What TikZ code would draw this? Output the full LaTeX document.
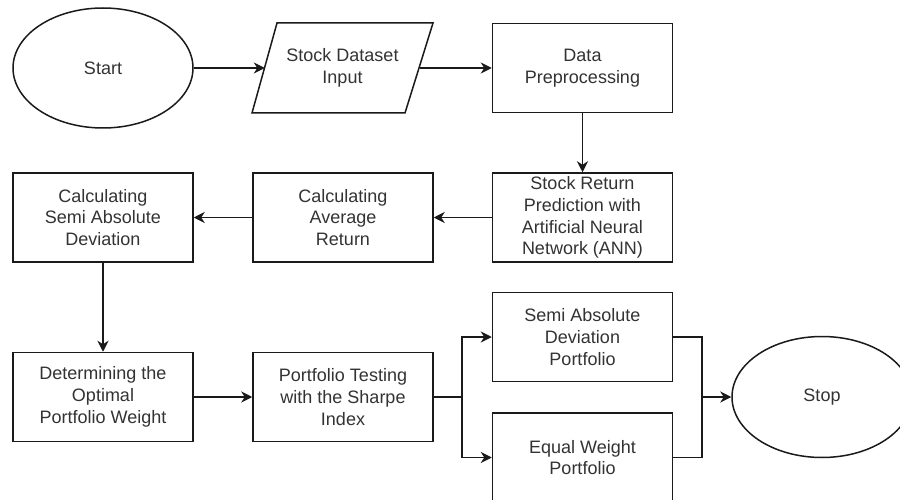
\documentclass[tikz,border=0pt]{standalone}
\usepackage{fontspec}
\setmainfont{Liberation Sans}
\usetikzlibrary{shapes.geometric,arrows.meta}
\definecolor{txt}{HTML}{333333}
\definecolor{ln}{HTML}{1A1A1A}
\begin{document}
\begin{tikzpicture}[x=1pt,y=-1pt,
 every node/.style={font=\fontsize{18}{21.7}\selectfont, text=txt, align=center},
 box/.style={draw=ln, line width=1.5pt, minimum width=180pt, minimum height=89pt, inner sep=0pt},
 oval/.style={draw=ln, ellipse, line width=1.5pt, minimum width=180pt, minimum height=120pt, inner sep=0pt},
 conn/.style={draw=ln, line width=1.5pt, -{Stealth[length=11pt,width=11pt,inset=3.5pt]}},
 seg/.style={draw=ln, line width=1.5pt}]
\useasboundingbox (0,0) rectangle (900,500);
\fill[white] (0,0) rectangle (900,500);
\begin{scope}
\clip (0,0) rectangle (900,500);
% nodes
\node[oval] (start) at (103,68) {Start};
\draw[ln, line width=1.5pt, line join=miter] (252,113) -- (277,23) -- (433,23) -- (405,113) -- cycle;
\node[minimum width=155pt, minimum height=90pt, inner sep=0pt] (input) at (342.5,68) {Stock Dataset\\Input};
\node[box] (prep) at (582.5,68) {Data\\Preprocessing};
\node[box] (ann) at (582.5,217.5) {Stock Return\\Prediction with\\Artificial Neural\\Network (ANN)};
\node[box] (avg) at (343,217.5) {Calculating\\Average\\Return};
\node[box] (sad) at (103,217.5) {Calculating\\Semi Absolute\\Deviation};
\node[box] (opt) at (103,397) {Determining the\\Optimal\\Portfolio Weight};
\node[box] (test) at (343,397) {Portfolio Testing\\with the Sharpe\\Index};
\node[box] (sadp) at (582.5,337) {Semi Absolute\\Deviation\\Portfolio};
\node[box] (eqw) at (582.5,457.5) {Equal Weight\\Portfolio};
\node[oval, minimum height=121pt] (stop) at (822,397) {Stop};
\coordinate (split) at (462,397);
\coordinate (join) at (702,397);
% connectors
\draw[conn] (start.east) -- (input.west);
\draw[conn] (input.east) -- (prep.west);
\draw[conn] (prep.south) -- (ann.north);
\draw[conn] (ann.west) -- (avg.east);
\draw[conn] (avg.west) -- (sad.east);
\draw[conn] (sad.south) -- (opt.north);
\draw[conn] (opt.east) -- (test.west);
\draw[seg] (test.east) -- (split);
\draw[conn] (split) |- (sadp.west);
\draw[conn] (split) |- (eqw.west);
\draw[seg] (sadp.east) -| (join);
\draw[seg] (eqw.east) -| (join);
\draw[conn] (join) -- (stop.west);
\end{scope}
\end{tikzpicture}
\end{document}
